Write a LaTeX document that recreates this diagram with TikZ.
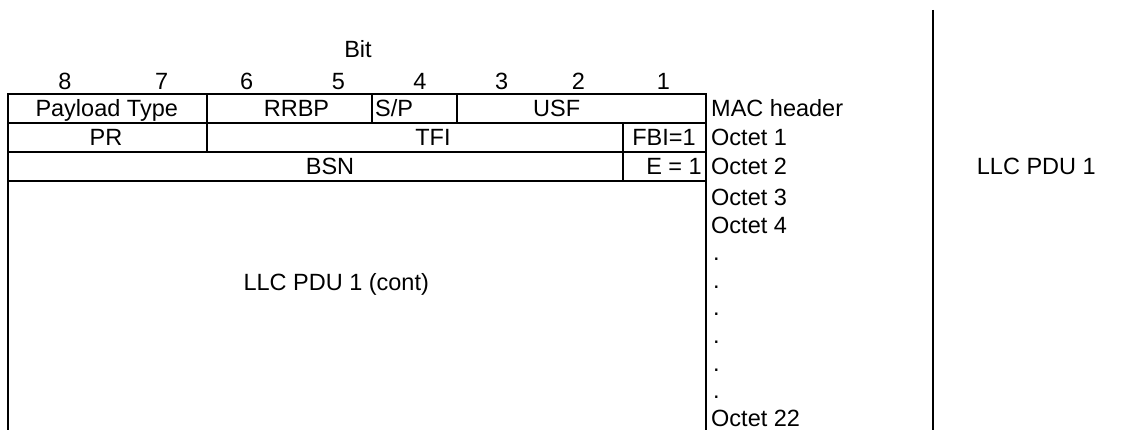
\documentclass[tikz,border=0pt]{standalone}
\usepackage{fontspec}
\setmainfont{Liberation Sans}
\begin{document}
\begin{tikzpicture}[x=1pt,y=-1pt,
  frame/.style={line width=2pt},
  lbl/.style={inner sep=0pt,anchor=base,font=\fontsize{23.5}{28}\selectfont},
  lblw/.style={lbl,anchor=base west},
  lble/.style={lbl,anchor=base east}]
\useasboundingbox (0,0) rectangle (1135,430);
% frame
\draw[frame] (7.5,430) -- (7.5,94) -- (706,94) -- (706,430);
\draw[frame] (7.5,123) -- (706,123);
\draw[frame] (7.5,152) -- (706,152);
\draw[frame] (7.5,181.5) -- (706,181.5);
\draw[frame] (207,94) -- (207,152);
\draw[frame] (372,94) -- (372,123);
\draw[frame] (457,94) -- (457,123);
\draw[frame] (623,123) -- (623,181.5);
\draw[frame] (932.5,10) -- (932.5,430);
% bit header
\node[lbl] (bit) at (358,58) {Bit};
\node[lbl] (b8) at (65,90) {8};
\node[lbl] (b7) at (161.7,90) {7};
\node[lbl] (b6) at (246.7,90) {6};
\node[lbl] (b5) at (338.3,90) {5};
\node[lbl] (b4) at (420,90) {4};
\node[lbl] (b3) at (501.7,90) {3};
\node[lbl] (b2) at (578.3,90) {2};
\node[lbl] (b1) at (663.3,90) {1};
% fields
\node[lbl] (pt) at (106.7,116.5) {Payload Type};
\node[lbl] (rrbp) at (296.5,116.5) {RRBP};
\node[lblw] (sp) at (375,116.5) {S/P};
\node[lbl] (usf) at (556.7,116.5) {USF};
\node[lbl] (pr) at (106,145.5) {PR};
\node[lbl] (tfi) at (433,145.5) {TFI};
\node[lbl] (fbi) at (664,145.5) {FBI=1};
\node[lbl] (bsn) at (330,175) {BSN};
\node[lble] (e1) at (702,175) {E = 1};
\node[lblw] (cont) at (243.3,290.4) {LLC PDU 1 (cont)};
% right labels
\node[lblw] (mac) at (711,116.5) {MAC header};
\node[lblw] (o1) at (711,145.5) {Octet 1};
\node[lblw] (o2) at (711,175) {Octet 2};
\node[lblw] (o3) at (711,206) {Octet 3};
\node[lblw] (o4) at (711,233.5) {Octet 4};
\node[lblw] (d1) at (713,261) {.};
\node[lblw] (d2) at (713,288.5) {.};
\node[lblw] (d3) at (713,316) {.};
\node[lblw] (d4) at (713,343.5) {.};
\node[lblw] (d5) at (713,371) {.};
\node[lblw] (d6) at (713,398.5) {.};
\node[lblw] (o22) at (711,426) {Octet 22};
\node[lblw] (llc) at (976.7,175) {LLC PDU 1};
\end{tikzpicture}
\end{document}
